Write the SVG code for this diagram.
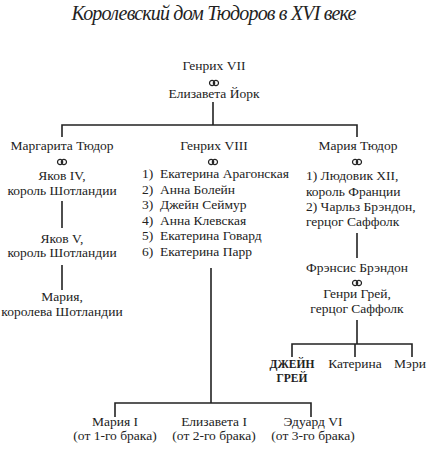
<svg xmlns="http://www.w3.org/2000/svg" xmlns:xlink="http://www.w3.org/1999/xlink" width="428" height="450" viewBox="0 0 428 450">
<style>
text{font-family:"Liberation Serif","Times New Roman",serif;font-size:13.5px;fill:#222}
.c{text-anchor:middle}
.t{font-style:italic;font-size:20px;text-anchor:middle}
.b{font-weight:bold;font-size:11.5px}
.ln{stroke:#222;stroke-width:1.6;fill:none}
.r{fill:none;stroke:#222;stroke-width:1.2}
</style>
<defs>
<g id="rings">
<circle class="r" cx="-1.9" cy="0" r="2.6"/>
<circle class="r" cx="1.9" cy="0" r="2.6"/>
</g>
</defs>
<rect width="428" height="450" fill="#fff"/>
<text class="t" x="214" y="20" textLength="285">Королевский дом Тюдоров в XVI веке</text>
<g id="connectors" class="ln">
<path d="M213 102V125M62 137V125H357V137"/>
<path d="M62 201V228M62 265V290"/>
<path d="M357 233V258M357 320V344M292 357V344H412V357M355 344V357"/>
<path d="M211 268V403M115 417V403H311V417"/>
</g>
<g id="henry7">
<text class="c" x="214" y="70">Генрих VII</text>
<use xlink:href="#rings" x="214" y="83"/>
<text class="c" x="214" y="98">Елизавета Йорк</text>
</g>
<g id="margaret">
<text class="c" x="62" y="150">Маргарита Тюдор</text>
<use xlink:href="#rings" x="62" y="162"/>
<text class="c" x="62" y="180">Яков IV,</text>
<text class="c" x="62" y="195">король Шотландии</text>
</g>
<g id="james5">
<text class="c" x="62" y="243">Яков V,</text>
<text class="c" x="62" y="257">король Шотландии</text>
</g>
<g id="mary-scots">
<text class="c" x="62" y="301">Мария,</text>
<text class="c" x="62" y="316">королева Шотландии</text>
</g>
<g id="henry8">
<text class="c" x="214" y="150">Генрих VIII</text>
<use xlink:href="#rings" x="213" y="162"/>
<text x="142" y="178">1)</text><text x="160" y="178">Екатерина Арагонская</text>
<text x="142" y="194">2)</text><text x="160" y="194">Анна Болейн</text>
<text x="142" y="209">3)</text><text x="160" y="209">Джейн Сеймур</text>
<text x="142" y="225">4)</text><text x="160" y="225">Анна Клевская</text>
<text x="142" y="240">5)</text><text x="160" y="240">Екатерина Говард</text>
<text x="142" y="256">6)</text><text x="160" y="256">Екатерина Парр</text>
</g>
<g id="mary-tudor">
<text class="c" x="358" y="150">Мария Тюдор</text>
<use xlink:href="#rings" x="357" y="162"/>
<text x="306" y="180">1) Людовик XII,</text>
<text x="306" y="196">король Франции</text>
<text x="306" y="211">2) Чарльз Брэндон,</text>
<text x="306" y="226">герцог Саффолк</text>
</g>
<g id="frances">
<text class="c" x="357" y="272">Фрэнсис Брэндон</text>
<use xlink:href="#rings" x="357" y="283"/>
<text class="c" x="357" y="298">Генри Грей,</text>
<text class="c" x="357" y="313">герцог Саффолк</text>
</g>
<g id="jane-grey">
<text class="c b" x="292" y="368">ДЖЕЙН</text>
<text class="c b" x="292" y="382">ГРЕЙ</text>
</g>
<g id="katherine"><text class="c" x="355" y="368">Катерина</text></g>
<g id="mary-grey"><text class="c" x="410" y="368">Мэри</text></g>
<g id="mary1">
<text class="c" x="115" y="426">Мария I</text>
<text class="c" x="115" y="440">(от 1-го брака)</text>
</g>
<g id="elizabeth1">
<text class="c" x="214" y="426">Елизавета I</text>
<text class="c" x="214" y="440">(от 2-го брака)</text>
</g>
<g id="edward6">
<text class="c" x="313" y="426">Эдуард VI</text>
<text class="c" x="313" y="440">(от 3-го брака)</text>
</g>
</svg>
